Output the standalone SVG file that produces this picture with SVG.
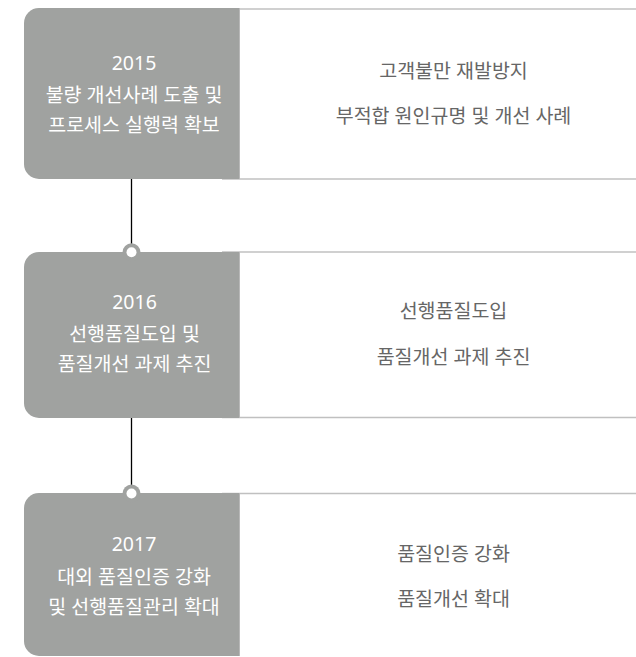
<svg xmlns="http://www.w3.org/2000/svg" width="636" height="657" viewBox="0 0 636 657">
<style>
.box{fill:#a0a2a0}
.edge{stroke:#b8b8b8;stroke-width:1}
.rule{stroke:#c0c0c0;stroke-width:1.5;fill:none}
.bt{font-family:"Noto Sans","Noto Sans CJK KR","Noto Sans CJK SC",sans-serif;font-size:19.5px;font-weight:400;fill:#ffffff;text-anchor:middle}
.rt{font-family:"Noto Sans","Noto Sans CJK KR","Noto Sans CJK SC",sans-serif;font-size:19.5px;font-weight:400;fill:#666666;text-anchor:middle}
.conn{stroke:#000000;stroke-width:1.3}
.dot-o{fill:#a0a2a0}
.dot-i{fill:#ffffff}
</style>
<rect width="636" height="657" fill="#ffffff"/>
<g id="row-2015">
<line class="rule" x1="222" y1="9" x2="636" y2="9"/>
<line class="rule" x1="222" y1="179" x2="636" y2="179"/>
<path class="box" d="M39 8 H240 V179 H39 A15 15 0 0 1 24 164 V23 A15 15 0 0 1 39 8 Z"/>
<line class="edge" x1="239.5" y1="8" x2="239.5" y2="179"/>
<text class="bt" x="134" y="69.5">2015</text>
<text class="bt" x="134" y="101.5">불량 개선사례 도출 및</text>
<text class="bt" x="134" y="131.5">프로세스 실행력 확보</text>
<text class="rt" x="453.5" y="78">고객불만 재발방지</text>
<text class="rt" x="453.5" y="122.5">부적합 원인규명 및 개선 사례</text>
</g>
<g id="row-2016">
<line class="rule" x1="222" y1="252" x2="636" y2="252"/>
<line class="rule" x1="222" y1="417.5" x2="636" y2="417.5"/>
<path class="box" d="M39 252 H240 V418 H39 A15 15 0 0 1 24 403 V267 A15 15 0 0 1 39 252 Z"/>
<line class="edge" x1="239.5" y1="252" x2="239.5" y2="418"/>
<text class="bt" x="134.5" y="309">2016</text>
<text class="bt" x="134.5" y="340.5">선행품질도입 및</text>
<text class="bt" x="134.5" y="370.5">품질개선 과제 추진</text>
<text class="rt" x="453.5" y="317.5">선행품질도입</text>
<text class="rt" x="453.5" y="364">품질개선 과제 추진</text>
</g>
<g id="row-2017">
<line class="rule" x1="222" y1="493.5" x2="636" y2="493.5"/>
<path class="box" d="M39 493 H240 V656 H39 A15 15 0 0 1 24 641 V508 A15 15 0 0 1 39 493 Z"/>
<line class="edge" x1="239.5" y1="493" x2="239.5" y2="656"/>
<text class="bt" x="134" y="550.5">2017</text>
<text class="bt" x="134" y="584">대외 품질인증 강화</text>
<text class="bt" x="134" y="614">및 선행품질관리 확대</text>
<text class="rt" x="453.5" y="560.5">품질인증 강화</text>
<text class="rt" x="453.5" y="605.5">품질개선 확대</text>
</g>
<g id="connectors">
<line class="conn" x1="131.5" y1="179" x2="131.5" y2="250"/>
<circle class="dot-o" cx="131.5" cy="252.3" r="9"/>
<circle class="dot-i" cx="131.5" cy="252.3" r="5"/>
<line class="conn" x1="131.5" y1="418" x2="131.5" y2="491"/>
<circle class="dot-o" cx="131.5" cy="493.5" r="9"/>
<circle class="dot-i" cx="131.5" cy="493.5" r="5"/>
</g>
</svg>
